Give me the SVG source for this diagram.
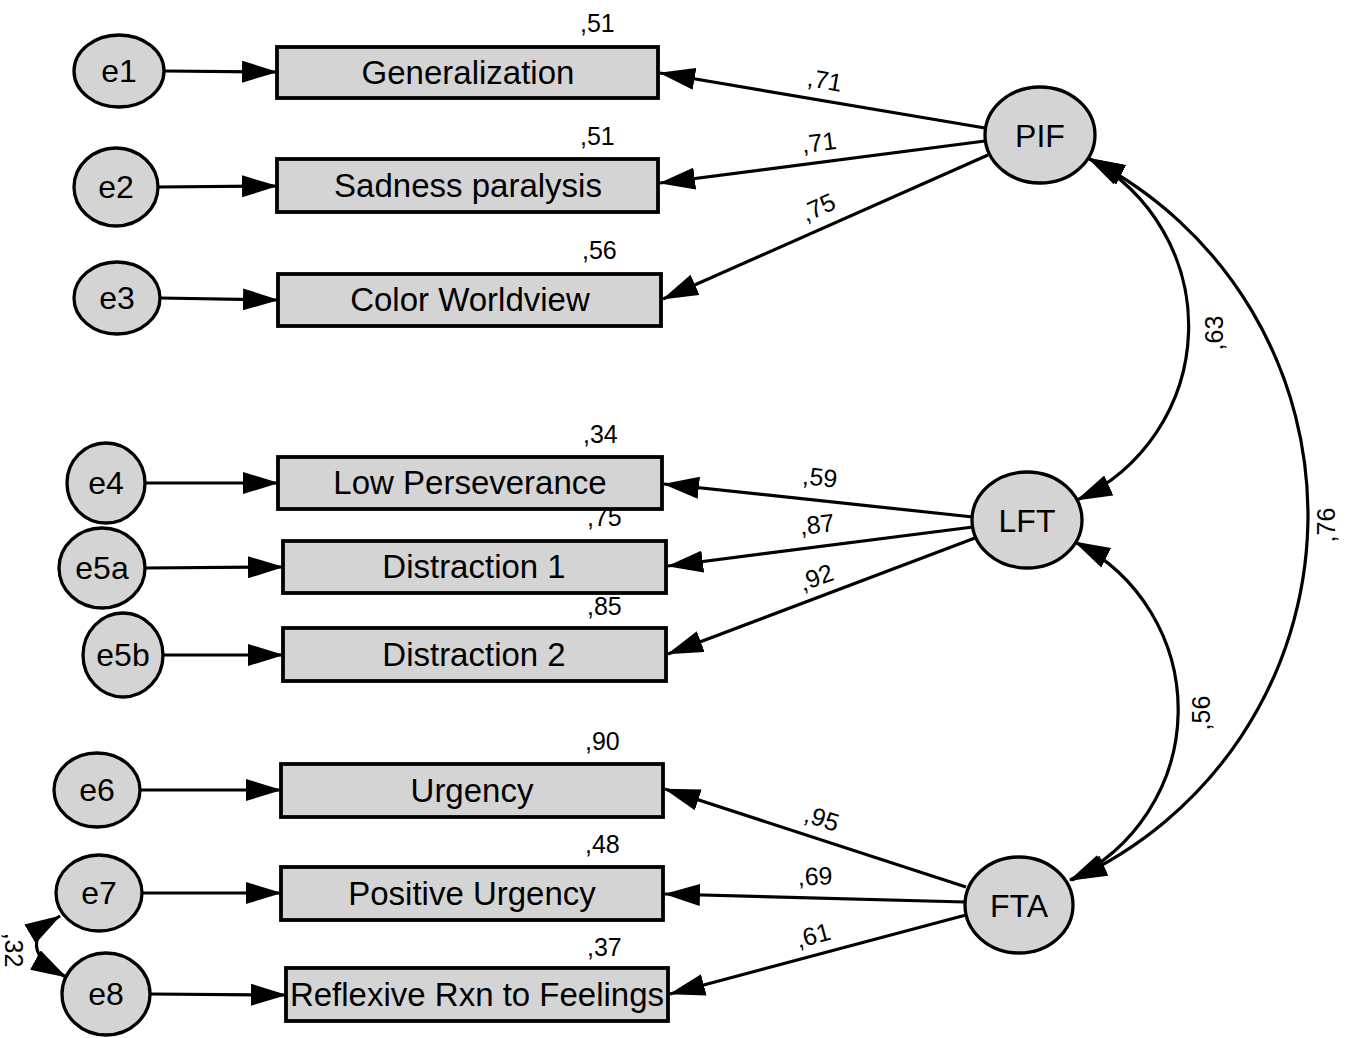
<svg xmlns="http://www.w3.org/2000/svg" width="1357" height="1038" viewBox="0 0 1357 1038">
<style>
.bg{fill:#ffffff}
.lat{fill:#d4d4d4;stroke:#000;stroke-width:3.3}
.box{fill:#d4d4d4;stroke:#000;stroke-width:3.8}
.ln{fill:none;stroke:#000;stroke-width:3.2}
.nt{font-family:"Liberation Sans",Arial,sans-serif;font-size:33px;fill:#000;text-anchor:middle}
.et{font-family:"Liberation Sans",Arial,sans-serif;font-size:32px;fill:#000;text-anchor:middle}
.num{font-family:"Liberation Sans",Arial,sans-serif;font-size:25px;fill:#000}
.pl{font-family:"Liberation Sans",Arial,sans-serif;font-size:25px;fill:#000;text-anchor:middle}
</style>
<defs>
<marker id="ah" markerUnits="userSpaceOnUse" markerWidth="36" markerHeight="22" viewBox="0 0 36 22" refX="35" refY="11" orient="auto-start-reverse">
<path d="M0,0 L36,11 L0,22 z" fill="#000"/>
</marker>
</defs>
<rect class="bg" x="0" y="0" width="1357" height="1038"/>

<g id="connectors">
<path class="ln" d="M165,71 L277,72" marker-end="url(#ah)"/>
<path class="ln" d="M158,187 L277,186" marker-end="url(#ah)"/>
<path class="ln" d="M160,298 L278,300" marker-end="url(#ah)"/>
<path class="ln" d="M145,483 L278,483" marker-end="url(#ah)"/>
<path class="ln" d="M145,568 L283,567" marker-end="url(#ah)"/>
<path class="ln" d="M163,655 L283,655" marker-end="url(#ah)"/>
<path class="ln" d="M140,790 L281,790" marker-end="url(#ah)"/>
<path class="ln" d="M142,893 L281,893" marker-end="url(#ah)"/>
<path class="ln" d="M150,994 L286,995" marker-end="url(#ah)"/>

<path class="ln" d="M985,128 L660,73" marker-end="url(#ah)"/>
<path class="ln" d="M985,141 L660,183" marker-end="url(#ah)"/>
<path class="ln" d="M988,155 L663,299" marker-end="url(#ah)"/>
<path class="ln" d="M973,517 L664,484" marker-end="url(#ah)"/>
<path class="ln" d="M973,527 L668,566" marker-end="url(#ah)"/>
<path class="ln" d="M975,538 L668,654" marker-end="url(#ah)"/>
<path class="ln" d="M966,887 L665,789" marker-end="url(#ah)"/>
<path class="ln" d="M965,902 L665,894" marker-end="url(#ah)"/>
<path class="ln" d="M966,915 L670,994" marker-end="url(#ah)"/>

<path class="ln" d="M1088,158 A191,191 0 0 1 1077,500" marker-start="url(#ah)" marker-end="url(#ah)"/>
<path class="ln" d="M1075,542 A188,188 0 0 1 1070,880" marker-start="url(#ah)" marker-end="url(#ah)"/>
<path class="ln" d="M1090,159 A400,400 0 0 1 1072,880" marker-start="url(#ah)" marker-end="url(#ah)"/>
<path class="ln" d="M60,916 Q10,946 66,977" marker-start="url(#ah)" marker-end="url(#ah)"/>

<text class="pl" transform="translate(825,80) rotate(10)" y="9">,71</text>
<text class="pl" transform="translate(819,142) rotate(-7)" y="9">,71</text>
<text class="pl" transform="translate(818,207) rotate(-24)" y="9">,75</text>
<text class="pl" transform="translate(820,477) rotate(6)" y="9">,59</text>
<text class="pl" transform="translate(817,524) rotate(-7)" y="9">,87</text>
<text class="pl" transform="translate(816,577) rotate(-20)" y="9">,92</text>
<text class="pl" transform="translate(822,818) rotate(18)" y="9">,95</text>
<text class="pl" transform="translate(815,876) rotate(-2)" y="9">,69</text>
<text class="pl" transform="translate(813,935) rotate(-15)" y="9">,61</text>
<text class="pl" transform="translate(1214,333) rotate(-90)" y="9">,63</text>
<text class="pl" transform="translate(1326,525) rotate(-90)" y="9">,76</text>
<text class="pl" transform="translate(1201,713) rotate(-90)" y="9">,56</text>
<text class="pl" transform="translate(14,950) rotate(90)" y="9">,32</text>
</g>

<g id="e1"><ellipse class="lat" cx="119" cy="71" rx="45" ry="36"/><text class="et" x="119" y="82">e1</text></g>
<g id="e2"><ellipse class="lat" cx="116" cy="187" rx="42" ry="39"/><text class="et" x="116" y="198">e2</text></g>
<g id="e3"><ellipse class="lat" cx="117" cy="298" rx="43" ry="36"/><text class="et" x="117" y="309">e3</text></g>
<g id="e4"><ellipse class="lat" cx="106" cy="483" rx="39" ry="40"/><text class="et" x="106" y="494">e4</text></g>
<g id="e5a"><ellipse class="lat" cx="102" cy="568" rx="43" ry="40"/><text class="et" x="102" y="579">e5a</text></g>
<g id="e5b"><ellipse class="lat" cx="123" cy="655" rx="40" ry="42"/><text class="et" x="123" y="666">e5b</text></g>
<g id="e6"><ellipse class="lat" cx="97" cy="790" rx="43" ry="37"/><text class="et" x="97" y="801">e6</text></g>
<g id="e7"><ellipse class="lat" cx="99" cy="893" rx="43" ry="38"/><text class="et" x="99" y="904">e7</text></g>
<g id="e8"><ellipse class="lat" cx="106" cy="994" rx="44" ry="41"/><text class="et" x="106" y="1005">e8</text></g>

<g id="generalization"><rect class="box" x="277" y="47" width="381" height="51"/><text class="nt" x="468" y="84">Generalization</text><text class="num" x="580" y="32">,51</text></g>
<g id="sadness"><rect class="box" x="277" y="159" width="381" height="53"/><text class="nt" x="468" y="197">Sadness paralysis</text><text class="num" x="580" y="145">,51</text></g>
<g id="color"><rect class="box" x="278" y="274" width="383" height="52"/><text class="nt" x="470" y="311">Color Worldview</text><text class="num" x="582" y="259">,56</text></g>
<g id="lowpers"><rect class="box" x="278" y="457" width="384" height="52"/><text class="nt" x="470" y="494">Low Perseverance</text><text class="num" x="583" y="443">,34</text></g>
<g id="dist1"><rect class="box" x="283" y="541" width="383" height="52"/><text class="nt" x="474" y="578">Distraction 1</text><text class="num" x="587" y="526">,75</text></g>
<g id="dist2"><rect class="box" x="283" y="628" width="383" height="53"/><text class="nt" x="474" y="666">Distraction 2</text><text class="num" x="587" y="615">,85</text></g>
<g id="urgency"><rect class="box" x="281" y="764" width="382" height="53"/><text class="nt" x="472" y="802">Urgency</text><text class="num" x="585" y="750">,90</text></g>
<g id="posurg"><rect class="box" x="281" y="867" width="382" height="53"/><text class="nt" x="472" y="905">Positive Urgency</text><text class="num" x="585" y="853">,48</text></g>
<g id="reflexive"><rect class="box" x="286" y="968" width="382" height="53"/><text class="nt" x="477" y="1006">Reflexive Rxn to Feelings</text><text class="num" x="587" y="956">,37</text></g>

<g id="PIF"><ellipse class="lat" cx="1040" cy="135" rx="55" ry="48"/><text class="et" x="1040" y="147">PIF</text></g>
<g id="LFT"><ellipse class="lat" cx="1027" cy="520" rx="55" ry="48"/><text class="et" x="1027" y="532">LFT</text></g>
<g id="FTA"><ellipse class="lat" cx="1019" cy="905" rx="54" ry="48"/><text class="et" x="1019" y="917">FTA</text></g>
</svg>
